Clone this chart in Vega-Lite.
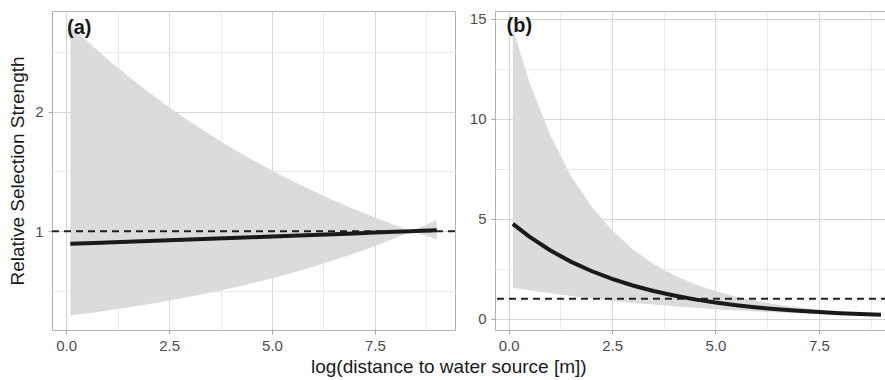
{
  "$schema": "https://vega.github.io/schema/vega-lite/v6.json",
  "padding": {"left": 8, "top": 10, "right": 0, "bottom": 0},
  "background": "white",
  "config": {
    "font": "Liberation Sans",
    "view": {"stroke": "#b3b3b3", "strokeWidth": 1},
    "concat": {"spacing": 11},
    "axis": {
      "domain": false,
      "tickSize": 4,
      "labelFontSize": 15,
      "labelColor": "#4d4d4d",
      "titleFontSize": 19,
      "titleFontWeight": "normal",
      "titleColor": "#1a1a1a",
      "gridWidth": 1
    },
    "axisX": {"labelPadding": 4},
    "axisY": {"labelPadding": 5, "titlePadding": 7}
  },
  "title": {
    "text": "log(distance to water source [m])",
    "orient": "bottom",
    "anchor": "middle",
    "fontSize": 19,
    "fontWeight": "normal",
    "color": "#1a1a1a",
    "font": "Liberation Sans",
    "offset": 4
  },
  "datasets": {
    "a": [
      {"x": 0.1, "mean": 0.8948, "lower": 0.2942, "upper": 2.721},
      {"x": 0.5, "mean": 0.8995, "lower": 0.3121, "upper": 2.593},
      {"x": 1.0, "mean": 0.9056, "lower": 0.336, "upper": 2.441},
      {"x": 1.5, "mean": 0.9117, "lower": 0.3616, "upper": 2.298},
      {"x": 2.0, "mean": 0.9178, "lower": 0.3893, "upper": 2.164},
      {"x": 2.5, "mean": 0.924, "lower": 0.4191, "upper": 2.037},
      {"x": 3.0, "mean": 0.9302, "lower": 0.4511, "upper": 1.918},
      {"x": 3.5, "mean": 0.9364, "lower": 0.4856, "upper": 1.806},
      {"x": 4.0, "mean": 0.9427, "lower": 0.5228, "upper": 1.7},
      {"x": 4.5, "mean": 0.9491, "lower": 0.5628, "upper": 1.6},
      {"x": 5.0, "mean": 0.9554, "lower": 0.6058, "upper": 1.507},
      {"x": 5.5, "mean": 0.9619, "lower": 0.6522, "upper": 1.419},
      {"x": 6.0, "mean": 0.9683, "lower": 0.702, "upper": 1.336},
      {"x": 6.5, "mean": 0.9748, "lower": 0.7557, "upper": 1.257},
      {"x": 7.0, "mean": 0.9814, "lower": 0.8135, "upper": 1.184},
      {"x": 7.5, "mean": 0.988, "lower": 0.8757, "upper": 1.115},
      {"x": 8.0, "mean": 0.9946, "lower": 0.9427, "upper": 1.049},
      {"x": 8.4, "mean": 1.0, "lower": 1.0, "upper": 1.0},
      {"x": 8.5, "mean": 1.0013, "lower": 0.988, "upper": 1.0148},
      {"x": 9.0, "mean": 1.0081, "lower": 0.9302, "upper": 1.0924}
    ],
    "b": [
      {"x": 0.1, "mean": 4.74, "lower": 1.547, "upper": 14.53},
      {"x": 0.5, "mean": 4.101, "lower": 1.421, "upper": 11.84},
      {"x": 1.0, "mean": 3.422, "lower": 1.272, "upper": 9.209},
      {"x": 1.5, "mean": 2.855, "lower": 1.138, "upper": 7.166},
      {"x": 2.0, "mean": 2.383, "lower": 1.008, "upper": 5.63},
      {"x": 2.5, "mean": 1.988, "lower": 0.893, "upper": 4.425},
      {"x": 3.0, "mean": 1.659, "lower": 0.7915, "upper": 3.477},
      {"x": 3.5, "mean": 1.384, "lower": 0.7013, "upper": 2.732},
      {"x": 4.0, "mean": 1.155, "lower": 0.6152, "upper": 2.169},
      {"x": 4.5, "mean": 0.9639, "lower": 0.5397, "upper": 1.7215},
      {"x": 5.0, "mean": 0.8043, "lower": 0.4687, "upper": 1.38},
      {"x": 5.5, "mean": 0.6711, "lower": 0.4111, "upper": 1.0955},
      {"x": 6.0, "mean": 0.56, "lower": 0.3571, "upper": 0.8783},
      {"x": 6.5, "mean": 0.4673, "lower": 0.3101, "upper": 0.7041},
      {"x": 7.0, "mean": 0.3899, "lower": 0.2694, "upper": 0.5645},
      {"x": 7.5, "mean": 0.3254, "lower": 0.2316, "upper": 0.4571},
      {"x": 8.0, "mean": 0.2715, "lower": 0.2011, "upper": 0.3665},
      {"x": 8.5, "mean": 0.2265, "lower": 0.1729, "upper": 0.2968},
      {"x": 9.0, "mean": 0.1891, "lower": 0.1487, "upper": 0.2403}
    ],
    "ref": [{"y": 1}],
    "labA": [{"x": 0.02, "y": 2.7, "label": "(a)"}],
    "labB": [{"x": -0.05, "y": 14.65, "label": "(b)"}]
  },
  "hconcat": [
    {
      "width": 403,
      "height": 319,
      "encoding": {
        "x": {
          "field": "x",
          "type": "quantitative",
          "title": null,
          "scale": {"domain": [-0.345, 9.445], "nice": false, "zero": false},
          "axis": {
            "values": [0, 1.25, 2.5, 3.75, 5, 6.25, 7.5, 8.75],
            "labelExpr": "datum.value % 2.5 === 0 ? format(datum.value, '.1f') : ''",
            "gridColor": {"condition": {"test": "datum.value % 2.5 === 0", "value": "#d6d6d6"}, "value": "#e8e8e8"},
            "tickColor": {"condition": {"test": "datum.value % 2.5 === 0", "value": "#a6a6a6"}, "value": "transparent"}
          }
        }
      },
      "layer": [
        {
          "data": {"name": "a"},
          "mark": {"type": "area", "color": "#dadbdd", "opacity": 1},
          "encoding": {
            "y": {
              "field": "lower",
              "type": "quantitative",
              "title": "Relative Selection Strength",
              "scale": {"domain": [0.173, 2.842], "nice": false, "zero": false},
              "axis": {
                "values": [0.5, 1, 1.5, 2, 2.5],
                "labelExpr": "datum.value % 1 === 0 ? format(datum.value, 'd') : ''",
                "gridColor": {"condition": {"test": "datum.value % 1 === 0", "value": "#d6d6d6"}, "value": "#e8e8e8"},
                "tickColor": {"condition": {"test": "datum.value % 1 === 0", "value": "#a6a6a6"}, "value": "transparent"}
              }
            },
            "y2": {"field": "upper"}
          }
        },
        {
          "data": {"name": "ref"},
          "mark": {"type": "rule", "strokeDash": [7, 5], "strokeWidth": 2, "color": "#222222"},
          "encoding": {"y": {"field": "y", "type": "quantitative"}, "x": null}
        },
        {
          "data": {"name": "a"},
          "mark": {"type": "line", "color": "#1a1a1a", "strokeWidth": 4},
          "encoding": {"y": {"field": "mean", "type": "quantitative"}}
        },
        {
          "data": {"name": "labA"},
          "mark": {"type": "text", "align": "left", "baseline": "middle", "fontSize": 20, "fontWeight": "bold", "color": "#1a1a1a"},
          "encoding": {"y": {"field": "y", "type": "quantitative"}, "text": {"field": "label"}}
        }
      ]
    },
    {
      "width": 393,
      "height": 319,
      "encoding": {
        "x": {
          "field": "x",
          "type": "quantitative",
          "title": null,
          "scale": {"domain": [-0.33, 9.17], "nice": false, "zero": false},
          "axis": {
            "values": [0, 1.25, 2.5, 3.75, 5, 6.25, 7.5, 8.75],
            "labelExpr": "datum.value % 2.5 === 0 ? format(datum.value, '.1f') : ''",
            "gridColor": {"condition": {"test": "datum.value % 2.5 === 0", "value": "#d6d6d6"}, "value": "#e8e8e8"},
            "tickColor": {"condition": {"test": "datum.value % 2.5 === 0", "value": "#a6a6a6"}, "value": "transparent"}
          }
        }
      },
      "layer": [
        {
          "data": {"name": "b"},
          "mark": {"type": "area", "color": "#dadbdd", "opacity": 1},
          "encoding": {
            "y": {
              "field": "lower",
              "type": "quantitative",
              "title": null,
              "scale": {"domain": [-0.57, 15.4], "nice": false, "zero": false},
              "axis": {
                "values": [0, 2.5, 5, 7.5, 10, 12.5, 15],
                "labelExpr": "datum.value % 5 === 0 ? format(datum.value, 'd') : ''",
                "gridColor": {"condition": {"test": "datum.value % 5 === 0", "value": "#d6d6d6"}, "value": "#e8e8e8"},
                "tickColor": {"condition": {"test": "datum.value % 5 === 0", "value": "#a6a6a6"}, "value": "transparent"}
              }
            },
            "y2": {"field": "upper"}
          }
        },
        {
          "data": {"name": "ref"},
          "mark": {"type": "rule", "strokeDash": [7, 5], "strokeWidth": 2, "color": "#222222"},
          "encoding": {"y": {"field": "y", "type": "quantitative"}, "x": null}
        },
        {
          "data": {"name": "b"},
          "mark": {"type": "line", "color": "#1a1a1a", "strokeWidth": 4},
          "encoding": {"y": {"field": "mean", "type": "quantitative"}}
        },
        {
          "data": {"name": "labB"},
          "mark": {"type": "text", "align": "left", "baseline": "middle", "fontSize": 20, "fontWeight": "bold", "color": "#1a1a1a"},
          "encoding": {"y": {"field": "y", "type": "quantitative"}, "text": {"field": "label"}}
        }
      ]
    }
  ]
}
